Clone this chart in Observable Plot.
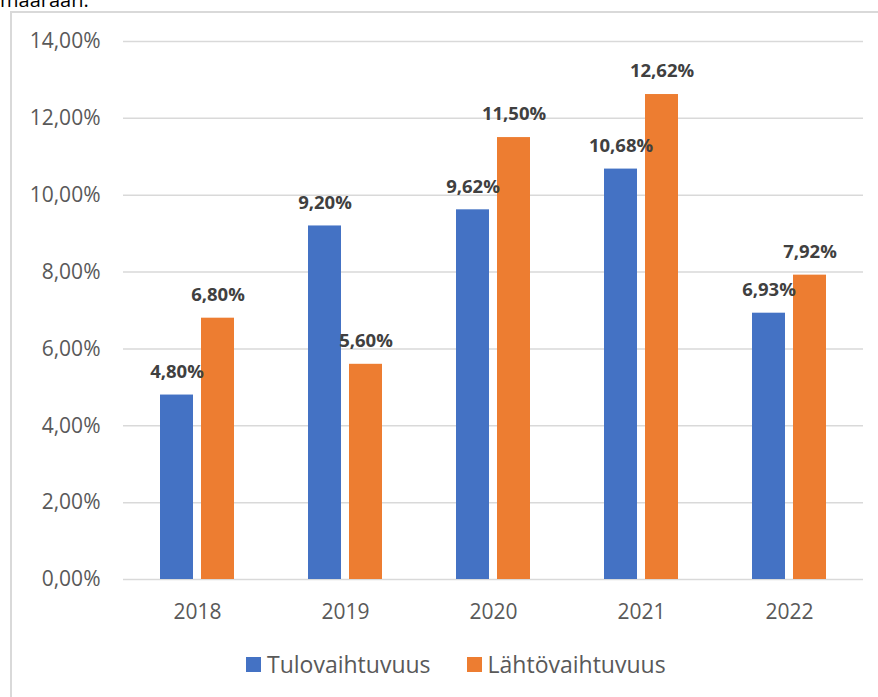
<!DOCTYPE html>
<html>
<head>
<meta charset="utf-8">
<script src="https://cdn.jsdelivr.net/npm/d3@7"></script>
<script src="https://cdn.jsdelivr.net/npm/@observablehq/plot@0.6"></script>
<style>
  html, body { margin: 0; padding: 0; background: #fff; overflow: hidden; }
  #wrap { position: relative; width: 878px; height: 697px; font-family: "Open Sans", sans-serif; }
  #intro { position: absolute; left: 0; top: -14px; font-size: 20px; color: #000; }
  #frame { position: absolute; left: 10px; top: 11px; width: 900px; height: 720px; border-left: 2px solid #d9d9d9; border-top: 2px solid #d9d9d9; box-sizing: border-box; }
  #chart { position: absolute; left: 0; top: 0; }
  #legend { position: absolute; left: 246px; top: 648px; display: flex; align-items: center; font-size: 23px; color: #595959; }
  .item { display: flex; align-items: center; margin-right: 36px; }
  .sw { width: 15px; height: 15px; margin-right: 6px; }
</style>
</head>
<body>
<div id="wrap">
  <div id="intro">määrään.</div>
  <div id="frame"></div>
  <div id="chart"></div>
  <div id="legend"></div>
</div>
<script>
const years = ["2018", "2019", "2020", "2021", "2022"];
const seriesNames = ["Tulovaihtuvuus", "Lähtövaihtuvuus"];
const tulo = [4.80, 9.20, 9.62, 10.68, 6.93];
const lahto = [6.80, 5.60, 11.50, 12.62, 7.92];
const colors = ["#4472C4", "#ED7D31"];
const yTicks = [0, 2, 4, 6, 8, 10, 12, 14];

const fmt = v => v.toFixed(2).replace(".", ",") + "%";

const data = [];
years.forEach((y, i) => {
  data.push({year: y, series: seriesNames[0], value: tulo[i]});
  data.push({year: y, series: seriesNames[1], value: lahto[i]});
});

const chart = Plot.plot({
  width: 878,
  height: 640,
  marginLeft: 123,
  marginRight: 15,
  marginTop: 41,
  marginBottom: 61,
  style: {fontFamily: "Open Sans, sans-serif", fontSize: "21px", color: "#595959", background: "transparent"},
  fx: {domain: years, padding: 0, label: null, tickSize: 0, tickPadding: 25},
  x: {domain: seriesNames, paddingInner: 0.19, paddingOuter: 0.857, axis: null},
  y: {domain: [0, 14], ticks: yTicks, tickFormat: fmt, tickSize: 0, tickPadding: 23, label: null},
  color: {domain: seriesNames, range: colors},
  marks: [
    Plot.ruleY(yTicks, {stroke: "#d9d9d9", strokeWidth: 1.5}),
    Plot.barY(data, {fx: "year", x: "series", y: "value", fill: "series"}),
    Plot.text(data, {fx: "year", x: "series", y: "value", text: d => fmt(d.value), dy: -23, fill: "#404040", fontWeight: "bold", fontSize: 18.5, lineAnchor: "middle"})
  ]
});
document.getElementById("chart").appendChild(chart);

const legend = document.getElementById("legend");
seriesNames.forEach((s, i) => {
  const item = document.createElement("div");
  item.className = "item";
  const sw = document.createElement("div");
  sw.className = "sw";
  sw.style.background = colors[i];
  const t = document.createElement("span");
  t.textContent = s;
  item.appendChild(sw);
  item.appendChild(t);
  legend.appendChild(item);
});
</script>
</body>
</html>
